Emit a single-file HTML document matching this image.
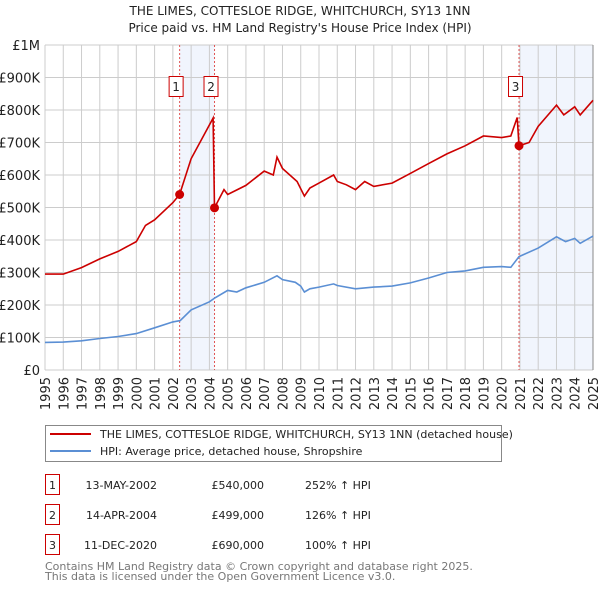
<!DOCTYPE html>
<html><head><meta charset="utf-8"><style>
body{margin:0;background:#fff;font-family:"DejaVu Sans","Liberation Sans",sans-serif;}
svg text{font-family:"DejaVu Sans","Liberation Sans",sans-serif;}
</style></head><body>
<svg id="c" width="600" height="590" xmlns="http://www.w3.org/2000/svg"></svg>
<script>
const hpiYears=[1995,1996,1997,1998,1999,2000,2001,2002,2002.4,2003,2004,2004.3,2005,2005.5,2006,2007,2007.7,2008,2008.7,2009,2009.2,2009.5,2010,2010.8,2011,2012,2013,2014,2015,2016,2017,2018,2019,2020,2020.5,2020.95,2022,2023,2023.5,2024,2024.3,2025];
const hpiValues=[85,86,90,97,103,112,130,148,152,185,210,222,245,240,253,270,290,278,270,258,240,250,255,265,260,250,255,258,268,283,300,305,316,318,316,349,375,410,395,405,390,412];
const ppYears=[1995,1996,1997,1998,1999,2000,2000.5,2001,2002,2002.37,2003,2004.2,2004.28,2004.8,2005,2006,2007,2007.5,2007.7,2008,2008.8,2009.2,2009.5,2010,2010.8,2011,2011.5,2012,2012.5,2013,2014,2015,2016,2017,2018,2019,2020,2020.5,2020.85,2020.95,2021.5,2022,2023,2023.4,2024,2024.3,2025];
const ppValues=[295,295,315,342,365,395,445,462,515,540,650,775,499,555,540,568,612,600,655,620,580,535,560,575,600,580,570,555,580,565,575,605,635,665,690,720,715,720,777,690,700,750,815,785,810,785,830];
const saleYears=[2002.37,2004.28,2020.95];
const saleValues=[540,499,690];
const saleLabels=["1","2","3"];
const yTicks=[0,100,200,300,400,500,600,700,800,900,1000];
const yTickLabels=["£0","£100K","£200K","£300K","£400K","£500K","£600K","£700K","£800K","£900K","£1M"];
const xTicks=[1995,1996,1997,1998,1999,2000,2001,2002,2003,2004,2005,2006,2007,2008,2009,2010,2011,2012,2013,2014,2015,2016,2017,2018,2019,2020,2021,2022,2023,2024,2025];

const L=45,R=593,T=45,B=370;
const X=y=>L+(y-1995)/30*(R-L);
const Y=v=>B-v/1000*(B-T);
const svg=document.getElementById('c');
const NS='http://www.w3.org/2000/svg';
function mk(tag,attrs,parent){const e=document.createElementNS(NS,tag);for(const k in attrs)e.setAttribute(k,attrs[k]);(parent||svg).appendChild(e);return e;}

let s1=mk('rect',{x:X(saleYears[0]),y:T,width:X(saleYears[1])-X(saleYears[0]),height:B-T,fill:'#eef2fc',opacity:0.8});


let s2=mk('rect',{x:X(saleYears[2]),y:T,width:R-X(saleYears[2]),height:B-T,fill:'#eef2fc',opacity:0.8});



yTicks.forEach((v,i)=>{
  let g=mk('line',{x1:L,x2:R,y1:Y(v),y2:Y(v),stroke:'#cccccc','stroke-width':1});
  
  
  let t=mk('text',{x:40,y:Y(v)+5,'text-anchor':'end','font-size':13,fill:'#222'});
  t.textContent=yTickLabels[i];
  
  
});
xTicks.forEach(y=>{
  let g=mk('line',{x1:X(y),x2:X(y),y1:T,y2:B,stroke:'#cccccc','stroke-width':1});
  
  
  let t=mk('text',{transform:`translate(${X(y)+5},${B+7}) rotate(-90)`,'text-anchor':'end','font-size':13,fill:'#222'});
  t.textContent=y;
  
  
});
let ax=mk('line',{x1:R,x2:R,y1:T,y2:B,stroke:'#888','stroke-width':1});



saleYears.forEach((y,i)=>{
  let l=mk('line',{x1:X(y),x2:X(y),y1:T,y2:B,stroke:'#e05555','stroke-width':1,'stroke-dasharray':'2,2'});
  
  
  let r=mk('rect',{x:X(y)-10.5,y:76.5,width:14,height:20,fill:'#fff',stroke:'#cc0000','stroke-width':1});
  
  
  let t=mk('text',{x:X(y)-3.5,y:91,'text-anchor':'middle','font-size':12,fill:'#222'});
  t.textContent=saleLabels[i];
  
  
});

function pathOf(xs,vs){return xs.map((y,i)=>(i?'L':'M')+X(y).toFixed(1)+','+Y(vs[i]).toFixed(1)).join('');}
let hp=mk('path',{d:pathOf(hpiYears,hpiValues),fill:'none',stroke:'#5b8fd4','stroke-width':1.6});


let pp=mk('path',{d:pathOf(ppYears,ppValues),fill:'none',stroke:'#cc0000','stroke-width':1.6});


saleYears.forEach((y,i)=>{
  let c=mk('circle',{cx:X(y),cy:Y(saleValues[i]),r:4.5,fill:'#cc0000'});
  
  
});

let t1=mk('text',{x:300,y:15,'text-anchor':'middle','font-size':12,fill:'#222'});t1.textContent='THE LIMES, COTTESLOE RIDGE, WHITCHURCH, SY13 1NN';


let t2=mk('text',{x:300,y:32,'text-anchor':'middle','font-size':12,fill:'#222'});t2.textContent="Price paid vs. HM Land Registry's House Price Index (HPI)";



let lg=mk('rect',{x:45.5,y:425.5,width:456,height:36,fill:'#fff',stroke:'#888','stroke-width':1});


let l1=mk('line',{x1:50,x2:91,y1:434,y2:434,stroke:'#cc0000','stroke-width':2});


let lt1=mk('text',{x:100,y:438,'font-size':11,fill:'#222'});lt1.textContent='THE LIMES, COTTESLOE RIDGE, WHITCHURCH, SY13 1NN (detached house)';


let l2=mk('line',{x1:50,x2:91,y1:451,y2:451,stroke:'#5b8fd4','stroke-width':2});


let lt2=mk('text',{x:100,y:455,'font-size':11,fill:'#222'});lt2.textContent='HPI: Average price, detached house, Shropshire';



const rowDates=["13-MAY-2002","14-APR-2004","11-DEC-2020"];
const rowPrices=["£540,000","£499,000","£690,000"];
const rowHpi=["252% ↑ HPI","126% ↑ HPI","100% ↑ HPI"];
rowDates.forEach((d,i)=>{
  const y=483+i*30;
  let b=mk('rect',{x:45.5,y:y-8.5,width:14,height:20,fill:'#fff',stroke:'#cc0000','stroke-width':1});
  
  
  let n=mk('text',{x:52.5,y:y+6,'text-anchor':'middle','font-size':11,fill:'#222'});n.textContent=saleLabels[i];
  
  
  let a=mk('text',{x:157,y:y+6,'text-anchor':'end','font-size':11,fill:'#222'});a.textContent=d;
  
  
  let p=mk('text',{x:264,y:y+6,'text-anchor':'end','font-size':11,fill:'#222'});p.textContent=rowPrices[i];
  
  
  let h=mk('text',{x:305,y:y+6,'font-size':11,fill:'#222'});h.textContent=rowHpi[i];
  
  
});
let f1=mk('text',{x:45,y:570,'font-size':11,fill:'#777'});f1.textContent='Contains HM Land Registry data © Crown copyright and database right 2025.';


let f2=mk('text',{x:45,y:580,'font-size':11,fill:'#777'});f2.textContent='This data is licensed under the Open Government Licence v3.0.';


</script>
</body></html>
